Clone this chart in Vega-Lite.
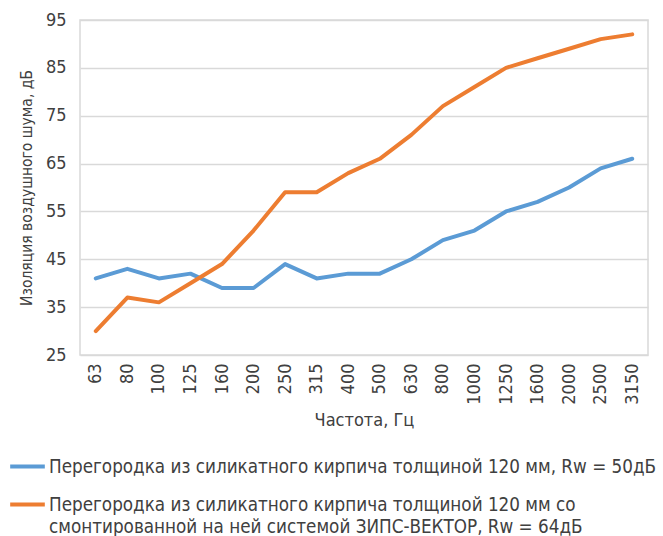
{
  "$schema": "https://vega.github.io/schema/vega-lite/v6.json",
  "autosize": "none",
  "width": 568,
  "height": 335,
  "padding": {"left": 80, "top": 20, "right": 15, "bottom": 181},
  "background": "white",
  "config": {
    "font": "DejaVu Sans Condensed",
    "view": {"stroke": "#d9d9d9", "strokeWidth": 1.5},
    "style": {"guide-label": {"lineHeight": 22}},
    "axis": {"labelColor": "#404040", "titleColor": "#404040", "gridColor": "#d9d9d9", "gridWidth": 1.5, "labelFontSize": 18, "titleFontSize": 18, "titleFontWeight": "normal", "domain": false, "ticks": false}
  },
  "data": {
    "values": [
      {"f": "63", "s": "A", "v": 41}, {"f": "80", "s": "A", "v": 43}, {"f": "100", "s": "A", "v": 41}, {"f": "125", "s": "A", "v": 42},
      {"f": "160", "s": "A", "v": 39}, {"f": "200", "s": "A", "v": 39}, {"f": "250", "s": "A", "v": 44}, {"f": "315", "s": "A", "v": 41},
      {"f": "400", "s": "A", "v": 42}, {"f": "500", "s": "A", "v": 42}, {"f": "630", "s": "A", "v": 45}, {"f": "800", "s": "A", "v": 49},
      {"f": "1000", "s": "A", "v": 51}, {"f": "1250", "s": "A", "v": 55}, {"f": "1600", "s": "A", "v": 57}, {"f": "2000", "s": "A", "v": 60},
      {"f": "2500", "s": "A", "v": 64}, {"f": "3150", "s": "A", "v": 66},
      {"f": "63", "s": "B", "v": 30}, {"f": "80", "s": "B", "v": 37}, {"f": "100", "s": "B", "v": 36}, {"f": "125", "s": "B", "v": 40},
      {"f": "160", "s": "B", "v": 44}, {"f": "200", "s": "B", "v": 51}, {"f": "250", "s": "B", "v": 59}, {"f": "315", "s": "B", "v": 59},
      {"f": "400", "s": "B", "v": 63}, {"f": "500", "s": "B", "v": 66}, {"f": "630", "s": "B", "v": 71}, {"f": "800", "s": "B", "v": 77},
      {"f": "1000", "s": "B", "v": 81}, {"f": "1250", "s": "B", "v": 85}, {"f": "1600", "s": "B", "v": 87}, {"f": "2000", "s": "B", "v": 89},
      {"f": "2500", "s": "B", "v": 91}, {"f": "3150", "s": "B", "v": 92}
    ]
  },
  "mark": {"type": "line", "strokeWidth": 4, "strokeCap": "round", "strokeJoin": "round"},
  "encoding": {
    "x": {
      "field": "f", "type": "ordinal", "sort": null,
      "scale": {"paddingInner": 0, "paddingOuter": 0},
      "axis": {"title": "Частота, Гц", "labelAngle": -90, "tickBand": "extent", "labelPadding": 8, "titlePadding": 7}
    },
    "y": {
      "field": "v", "type": "quantitative",
      "scale": {"domain": [25, 95], "nice": false, "zero": false},
      "axis": {"title": "Изоляция воздушного шума, дБ", "values": [25, 35, 45, 55, 65, 75, 85, 95], "labelPadding": 14, "titlePadding": 11, "titleFontSize": 15.5}
    },
    "color": {
      "field": "s", "type": "nominal",
      "scale": {"domain": ["A", "B"], "range": ["#5B9BD5", "#ED7D31"]},
      "legend": {
        "title": null, "orient": "none", "legendX": -72, "legendY": 427, "direction": "vertical",
        "symbolType": "stroke", "symbolSize": 1200, "symbolStrokeWidth": 4,
        "labelFontSize": 18.7, "labelColor": "#404040", "labelLimit": 0, "rowPadding": 8, "labelOffset": 2,
        "labelExpr": "datum.label == 'A' ? 'Перегородка из силикатного кирпича толщиной 120 мм, Rw = 50дБ' : ['Перегородка из силикатного кирпича толщиной 120 мм со', 'смонтированной на ней системой ЗИПС-ВЕКТОР, Rw = 64дБ']"
      }
    }
  }
}
